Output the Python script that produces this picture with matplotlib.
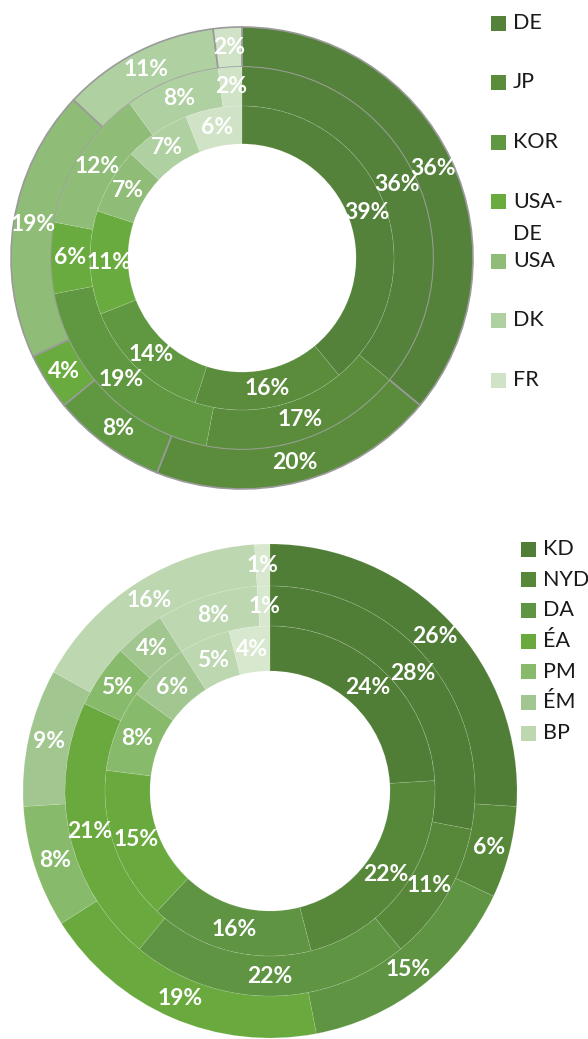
import numpy as np
import matplotlib.pyplot as plt
from matplotlib.patches import Rectangle

# top chart data (outer, middle, inner ring), clockwise from 12 o'clock
top_labels = ["DE", "JP", "KOR", "USA-\nDE", "USA", "DK", "FR"]
top_outer = [36, 20, 8, 4, 19, 11, 2]
top_middle = [36, 17, 19, 6, 12, 8, 2]
top_inner = [39, 16, 14, 11, 7, 7, 6]
top_colors = ["#54823a", "#5a8c3c", "#609741", "#6aab3f", "#8fbc76", "#afd0a0", "#d0e3c7"]

# bottom chart data (8th slice has no legend entry)
bot_labels = ["KD", "NYD", "DA", "ÉA", "PM", "ÉM", "BP"]
bot_outer = [26, 6, 15, 19, 8, 9, 16, 1]
bot_middle = [28, 11, 22, 21, 5, 4, 8, 1]
bot_inner = [24, 22, 16, 15, 8, 6, 5, 4]
bot_colors = ["#517e36", "#57883a", "#5e9442", "#69a93e", "#88ba6c", "#a1c68f", "#bdd7b1", "#d7e8cf"]

W, H = 588, 1039
fig = plt.figure(figsize=(W / 100, H / 100), dpi=100)


def px_axes(cx, cy, r):
    return fig.add_axes([(cx - r) / W, (H - cy - r) / H, 2 * r / W, 2 * r / H])


def donut(ax, rings, radii, colors, edge=None):
    # rings: list of value lists from outer to inner, radii: outer radius of each ring + hole
    for i, vals in enumerate(rings):
        r_out, r_in = radii[i], radii[i + 1]
        ec = edge if (edge is not None and i == 0) else (1, 1, 1, 0.12)
        lw = 1.2 if (edge is not None and i == 0) else 0.6
        ax.pie(vals, radius=r_out, colors=colors[:len(vals)], startangle=90,
               counterclock=False,
               wedgeprops=dict(width=r_out - r_in, edgecolor=ec, linewidth=lw))
        total = float(sum(vals))
        cum = np.cumsum([0] + list(vals))
        rm = (r_out + r_in) / 2
        for k, v in enumerate(vals):
            ang = np.deg2rad(90 - 360 * (cum[k] + v / 2) / total)
            ax.text(rm * np.cos(ang), rm * np.sin(ang), f"{v}%", ha="center", va="center",
                    color="white", fontsize=16.5, fontweight="bold", family="Lato")
    ax.set_xlim(-1, 1)
    ax.set_ylim(-1, 1)
    ax.set_aspect("equal")
    ax.axis("off")


def legend(labels, colors, x_box, x_text, y_first, step):
    for i, lab in enumerate(labels):
        yc = y_first + i * step
        fig.add_artist(Rectangle((x_box / W, (H - yc - 7.5) / H), 15 / W, 15 / H,
                                 transform=fig.transFigure, facecolor=colors[i], edgecolor="none"))
        # wrapped labels: each line drawn ~32px below the previous one
        for j, line in enumerate(lab.split("\n")):
            fig.text(x_text / W, (H - yc - 32 * j) / H, line, ha="left", va="center",
                     fontsize=15.5, color="#1a1a1a", family="Lato")


ax1 = px_axes(242, 258, 231)
donut(ax1, [top_outer, top_middle, top_inner], [1.0, 0.827, 0.658, 0.494], top_colors, edge="#9a9a9a")

ax2 = px_axes(270, 791, 247)
donut(ax2, [bot_outer, bot_middle, bot_inner], [1.0, 0.83, 0.668, 0.486], bot_colors)

legend(top_labels, top_colors, 491, 513, 23, 59.5)
legend(bot_labels, bot_colors, 521, 543, 549, 30.7)

fig.savefig("out.png", dpi=100)
